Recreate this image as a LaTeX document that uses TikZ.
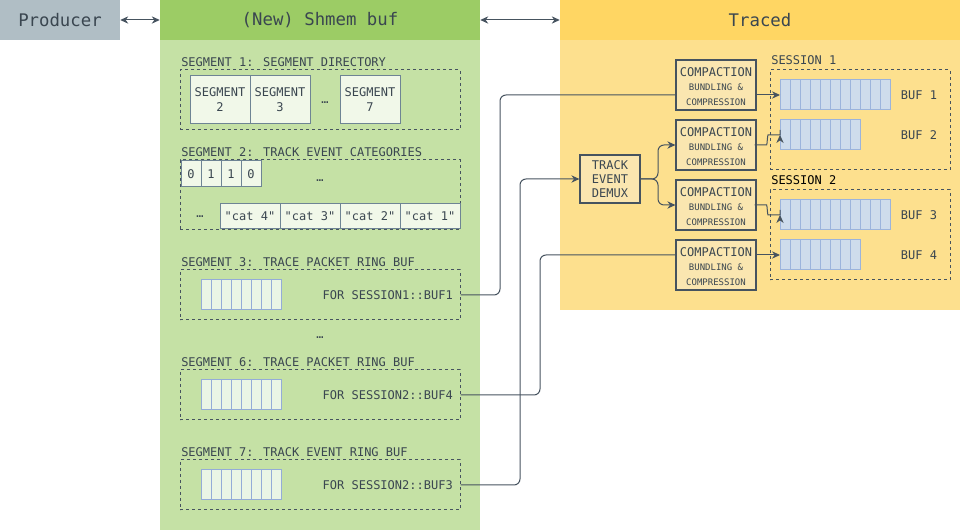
\documentclass[tikz,border=0pt]{standalone}
\usepackage{fontspec}
\setmainfont{DejaVu Sans Mono}[Ligatures=TeXOff]
\usetikzlibrary{arrows.meta,calc}
\definecolor{ln}{HTML}{46535F}
\definecolor{txt}{HTML}{3A4650}
\definecolor{prodfill}{HTML}{B0BEC5}
\definecolor{greenhead}{HTML}{9CCC65}
\definecolor{greenbody}{HTML}{C5E1A5}
\definecolor{yellowhead}{HTML}{FFD663}
\definecolor{yellowbody}{HTML}{FDE08E}
\definecolor{compfill}{HTML}{FAE6B0}
\definecolor{segfill}{HTML}{F1F8E9}
\definecolor{segln}{HTML}{6E8494}
\definecolor{ringfill}{HTML}{EAF5E6}
\definecolor{ringln}{HTML}{94ACD8}
\definecolor{sessfill}{HTML}{CEDCEC}
\definecolor{sessln}{HTML}{9CB4DC}
\tikzset{
  hdr/.style={minimum height=30pt, inner sep=0pt, font=\fontsize{13pt}{15pt}\selectfont},
  dbox/.style={draw=ln, line width=0.75pt, dash pattern=on 2.25pt off 2.25pt, inner sep=0pt},
  segcell/.style={draw=segln, fill=segfill, line width=0.75pt, inner sep=0pt, align=center, font=\fontsize{9pt}{11.25pt}\selectfont},
  comp/.style={draw=ln, fill=compfill, line width=0.9pt, minimum width=60pt, minimum height=37.5pt, inner sep=0pt},
  lbl/.style={inner sep=0pt, anchor=west},
  conn/.style={draw=ln, line width=0.75pt, rounded corners=4.5pt},
  arr/.style={-{Stealth[length=6pt,width=5.5pt]}},
  darr/.style={{Stealth[length=6pt,width=5.5pt]}-{Stealth[length=6pt,width=5.5pt]}},
  ringcell/.style={draw=ringln, fill=ringfill, line width=0.75pt},
  sesscell/.style={draw=sessln, fill=sessfill, line width=0.75pt},
}
\newcommand\compbox[2]{%
  \node[comp] (#1) at (716,#2) {};
  \node[inner sep=0pt, font=\fontsize{9pt}{10pt}\selectfont] at (716,#2-13) {COMPACTION};
  \node[inner sep=0pt, font=\fontsize{6.75pt}{8pt}\selectfont] at (716,#2+2) {BUNDLING \&};
  \node[inner sep=0pt, font=\fontsize{6.75pt}{8pt}\selectfont] at (716,#2+17) {COMPRESSION};
}
\newcommand\ringbuf[5]{% name, x0, cy, n, style
  \foreach \i in {1,...,#4} \draw[#5] ({#2+(\i-1)*10},#3-15) rectangle ++(10,30);
  \node[inner sep=0pt, minimum width={#4*7.5pt}, minimum height=22.5pt, anchor=west] (#1) at (#2,#3) {};
}
\begin{document}
\begin{tikzpicture}[x=0.75pt,y=-0.75pt, font=\fontsize{9pt}{11pt}\selectfont, text=txt]
\useasboundingbox (0,0) rectangle (960,530);
% panels
\node[hdr, fill=prodfill, minimum width=90pt] (producer) at (60,20) {Producer};
\fill[greenbody] (160,40) rectangle (480,530);
\node[hdr, fill=greenhead, minimum width=240pt] (shmem) at (320,20) {(New) Shmem buf};
\fill[yellowbody] (560,40) rectangle (960,310);
\node[hdr, fill=yellowhead, minimum width=300pt] (traced) at (760,20) {Traced};
\draw[conn, darr] (producer.east) -- (shmem.west);
\draw[conn, darr] (shmem.east) -- (traced.west);

% segment 1
\node[lbl] (s1l) at (181,62) {SEGMENT 1: SEGMENT DIRECTORY};
\node[dbox, minimum width=210pt, minimum height=45pt] (seg1) at (320,100) {};
\node[segcell, minimum width=45pt, minimum height=36pt] (d2) at (220,100) {SEGMENT\\2};
\node[segcell, minimum width=45pt, minimum height=36pt] (d3) at (280,100) {SEGMENT\\3};
\node[inner sep=0pt] (d4) at (325,103) {…};
\node[segcell, minimum width=45pt, minimum height=36pt] (d7) at (370,100) {SEGMENT\\7};

% segment 2
\node[lbl] (s2l) at (181,152) {SEGMENT 2: TRACK EVENT CATEGORIES};
\node[dbox, minimum width=210pt, minimum height=52.5pt] (seg2) at (320,195) {};
\node[segcell, minimum width=15pt, minimum height=19.5pt] (b1) at (191,174) {0};
\node[segcell, minimum width=15pt, minimum height=19.5pt] (b2) at (211,174) {1};
\node[segcell, minimum width=15pt, minimum height=19.5pt] (b3) at (231,174) {1};
\node[segcell, minimum width=15pt, minimum height=19.5pt] (b4) at (251,174) {0};
\node[inner sep=0pt] (e1) at (320,181) {…};
\node[inner sep=0pt] (e2) at (200,217) {…};
\node[segcell, minimum width=45pt, minimum height=18.75pt] (c4) at (250,216.5) {"cat 4"};
\node[segcell, minimum width=45pt, minimum height=18.75pt] (c3) at (310,216.5) {"cat 3"};
\node[segcell, minimum width=45pt, minimum height=18.75pt] (c2) at (370,216.5) {"cat 2"};
\node[segcell, minimum width=45pt, minimum height=18.75pt] (c1) at (430,216.5) {"cat 1"};

% segment 3
\node[lbl] (s3l) at (181,262) {SEGMENT 3: TRACE PACKET RING BUF};
\node[dbox, minimum width=210pt, minimum height=37.5pt] (seg3) at (320,295) {};
\ringbuf{r3}{201.5}{295}{8}{ringcell}
\node[inner sep=0pt, anchor=east] (f3) at (453,295) {FOR SESSION1::BUF1};

\node[inner sep=0pt] (e3) at (320,338) {…};

% segment 6
\node[lbl] (s6l) at (181,362) {SEGMENT 6: TRACE PACKET RING BUF};
\node[dbox, minimum width=210pt, minimum height=37.5pt] (seg6) at (320,395) {};
\ringbuf{r6}{201.5}{395}{8}{ringcell}
\node[inner sep=0pt, anchor=east] (f6) at (453,395) {FOR SESSION2::BUF4};

% segment 7
\node[lbl] (s7l) at (181,452) {SEGMENT 7: TRACK EVENT RING BUF};
\node[dbox, minimum width=210pt, minimum height=37.5pt] (seg7) at (320,485) {};
\ringbuf{r7}{201.5}{485}{8}{ringcell}
\node[inner sep=0pt, anchor=east] (f7) at (453,485) {FOR SESSION2::BUF3};

% traced internals
\compbox{comp1}{85}
\compbox{comp2}{145}
\compbox{comp3}{205}
\compbox{comp4}{265}
\node[draw=ln, fill=compfill, line width=0.9pt, minimum width=45pt, minimum height=36pt, inner sep=0pt, align=center, font=\fontsize{9pt}{10.5pt}\selectfont] (demux) at (610,179) {TRACK\\EVENT\\DEMUX};

\node[lbl] (ss1l) at (771,60) {SESSION 1};
\node[dbox, minimum width=135pt, minimum height=75pt] (sess1) at (860,120) {};
\node[lbl, text=black] (ss2l) at (771,180) {SESSION 2};
\node[dbox, minimum width=135pt, minimum height=67.5pt] (sess2) at (860,235) {};

\ringbuf{buf1}{780}{95}{11}{sesscell}
\ringbuf{buf2}{780}{135}{8}{sesscell}
\ringbuf{buf3}{780}{215}{11}{sesscell}
\ringbuf{buf4}{780}{255}{8}{sesscell}
\node[inner sep=0pt] (bl1) at (919,95) {BUF 1};
\node[inner sep=0pt] (bl2) at (919,135) {BUF 2};
\node[inner sep=0pt] (bl3) at (919,215) {BUF 3};
\node[inner sep=0pt] (bl4) at (919,255) {BUF 4};

% connectors
\draw[conn] (seg3.east) -- (500,295) -- (500,95) -- (comp1.west |- buf1.west);
\draw[conn] (seg6.east) -- (540,395) -- (540,255) -- (comp4.west |- buf4.west);
\draw[conn, arr] (seg7.east) -- (520,485) -- (520,179) -- (demux.west);
\draw[conn, arr] (demux.east) -- (658,179) -- (658,145) -- (comp2.west);
\draw[conn, arr] (demux.east) -- (658,179) -- (658,205) -- (comp3.west);
\draw[conn, arr] (comp1.east |- buf1.west) -- (buf1.west);
\draw[conn, arr] (comp2.east) -- ++(4,0) to[out=0,in=180] ($(buf2.west)+(-6,0)$) -- (buf2.west);
\draw[conn, arr] (comp3.east) -- ++(4,0) to[out=0,in=180] ($(buf3.west)+(-6,0)$) -- (buf3.west);
\draw[conn, arr] (comp4.east |- buf4.west) -- (buf4.west);
\end{tikzpicture}
\end{document}
